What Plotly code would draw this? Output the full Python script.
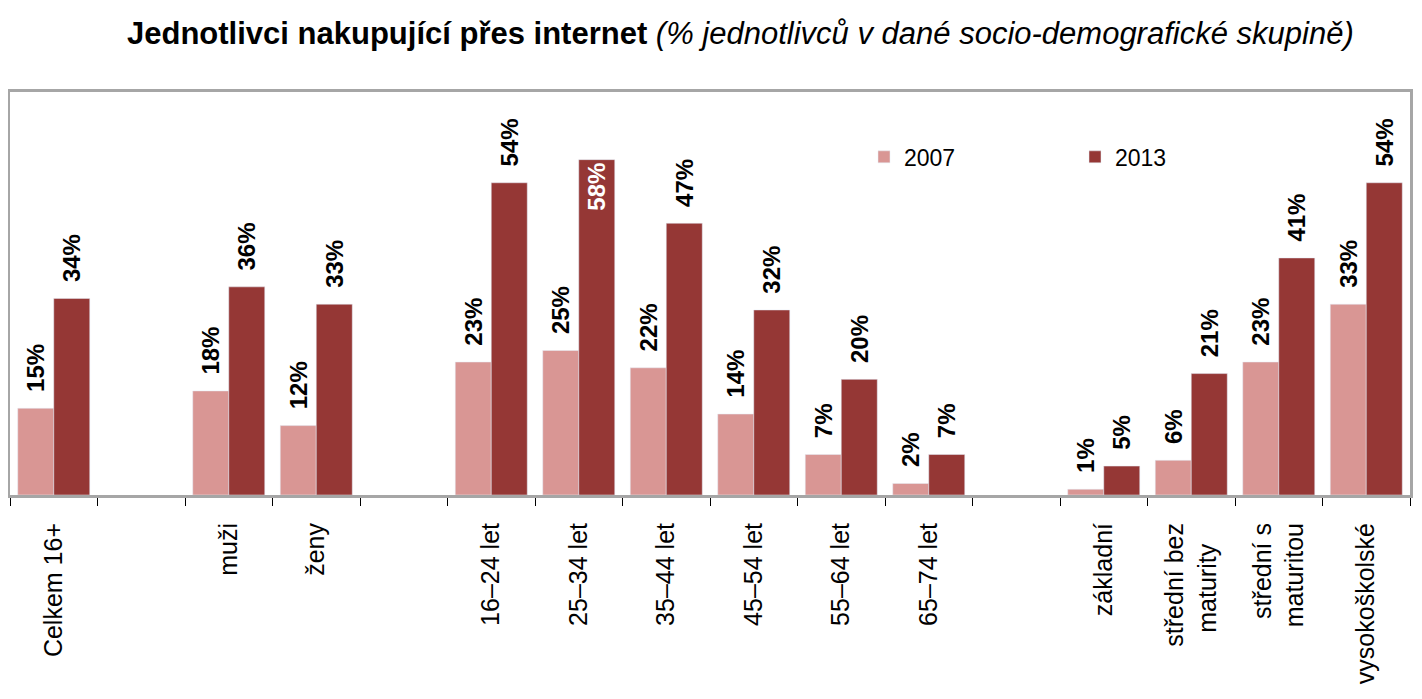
import plotly.graph_objects as go

NBSP = "\u00a0"

# categories (blank strings are spacer slots between groups)
categories = ["Celkem 16+", " ", "muži", "ženy", "  ",
              "16–24 let", "25–34 let", "35–44 let", "45–54 let", "55–64 let", "65–74 let", "   ",
              "základní", "střední bez<br>maturity" + NBSP * 3, "střední s<br>maturitou", "vysokoškolské"]
val_2007 = [15, None, 18, 12, None, 23, 25, 22, 14, 7, 2, None, 1, 6, 23, 33]
val_2013 = [34, None, 36, 33, None, 54, 58, 47, 32, 20, 7, None, 5, 21, 41, 54]


def labels(vals):
    # non-breaking spaces lift the outside labels a bit off the bars
    return ["" if v is None else (f"{v}%" if v == 58 else f"{NBSP*2}{v}%") for v in vals]

fig = go.Figure()

fig.add_bar(x=categories, y=val_2007, name="2007", marker_color="#d99694",
            text=labels(val_2007), textposition="outside", textangle=-90,
            constraintext="none",
            textfont=dict(size=24, color="black", family="Liberation Sans", weight="bold"),
            cliponaxis=False)

# the tallest bar gets its label inside in white, like the original
pos_2013 = ["inside" if v == 58 else "outside" for v in val_2013]
col_2013 = ["white" if v == 58 else "black" for v in val_2013]
fig.add_bar(x=categories, y=val_2013, name="2013", marker_color="#953735",
            text=labels(val_2013), textposition=pos_2013, textangle=-90,
            insidetextanchor="end", constraintext="none",
            textfont=dict(size=24, color=col_2013, family="Liberation Sans", weight="bold"),
            cliponaxis=False)

# page body has an 8px margin, so the figure is a bit smaller than the window
fig.update_layout(
    width=1414, height=691,
    margin=dict(l=2, r=12, t=84, b=204),
    paper_bgcolor="white", plot_bgcolor="white",
    barmode="group", bargap=0.177, bargroupgap=0,
    font=dict(family="Liberation Sans", size=24, color="black"),
    title=dict(text="<b>Jednotlivci nakupující přes internet</b> <i>(% jednotlivců v dané socio-demografické skupině)</i>",
               x=119/1414, xref="container", xanchor="left",
               y=1-25/691, yanchor="middle",
               font=dict(size=31, family="Liberation Sans", color="black")),
    legend=dict(orientation="h", x=0.61, y=0.839, xanchor="left", yanchor="middle",
                font=dict(size=23), entrywidth=166, entrywidthmode="pixels",
                bgcolor="rgba(0,0,0,0)"),
)

fig.update_xaxes(type="category", tickangle=-90, tickson="boundaries",
                 ticks="outside", ticklen=8, tickcolor="black", tickwidth=1,
                 ticklabelstandoff=15, automargin=False,
                 showline=True, linecolor="#a6a6a6", linewidth=3, mirror=True,
                 showgrid=False, tickfont=dict(size=25))
fig.update_yaxes(range=[0, 69.7], showticklabels=False, showgrid=False, zeroline=False,
                 automargin=False,
                 showline=True, linecolor="#a6a6a6", linewidth=3, mirror=True)

fig.write_html("out.html")
